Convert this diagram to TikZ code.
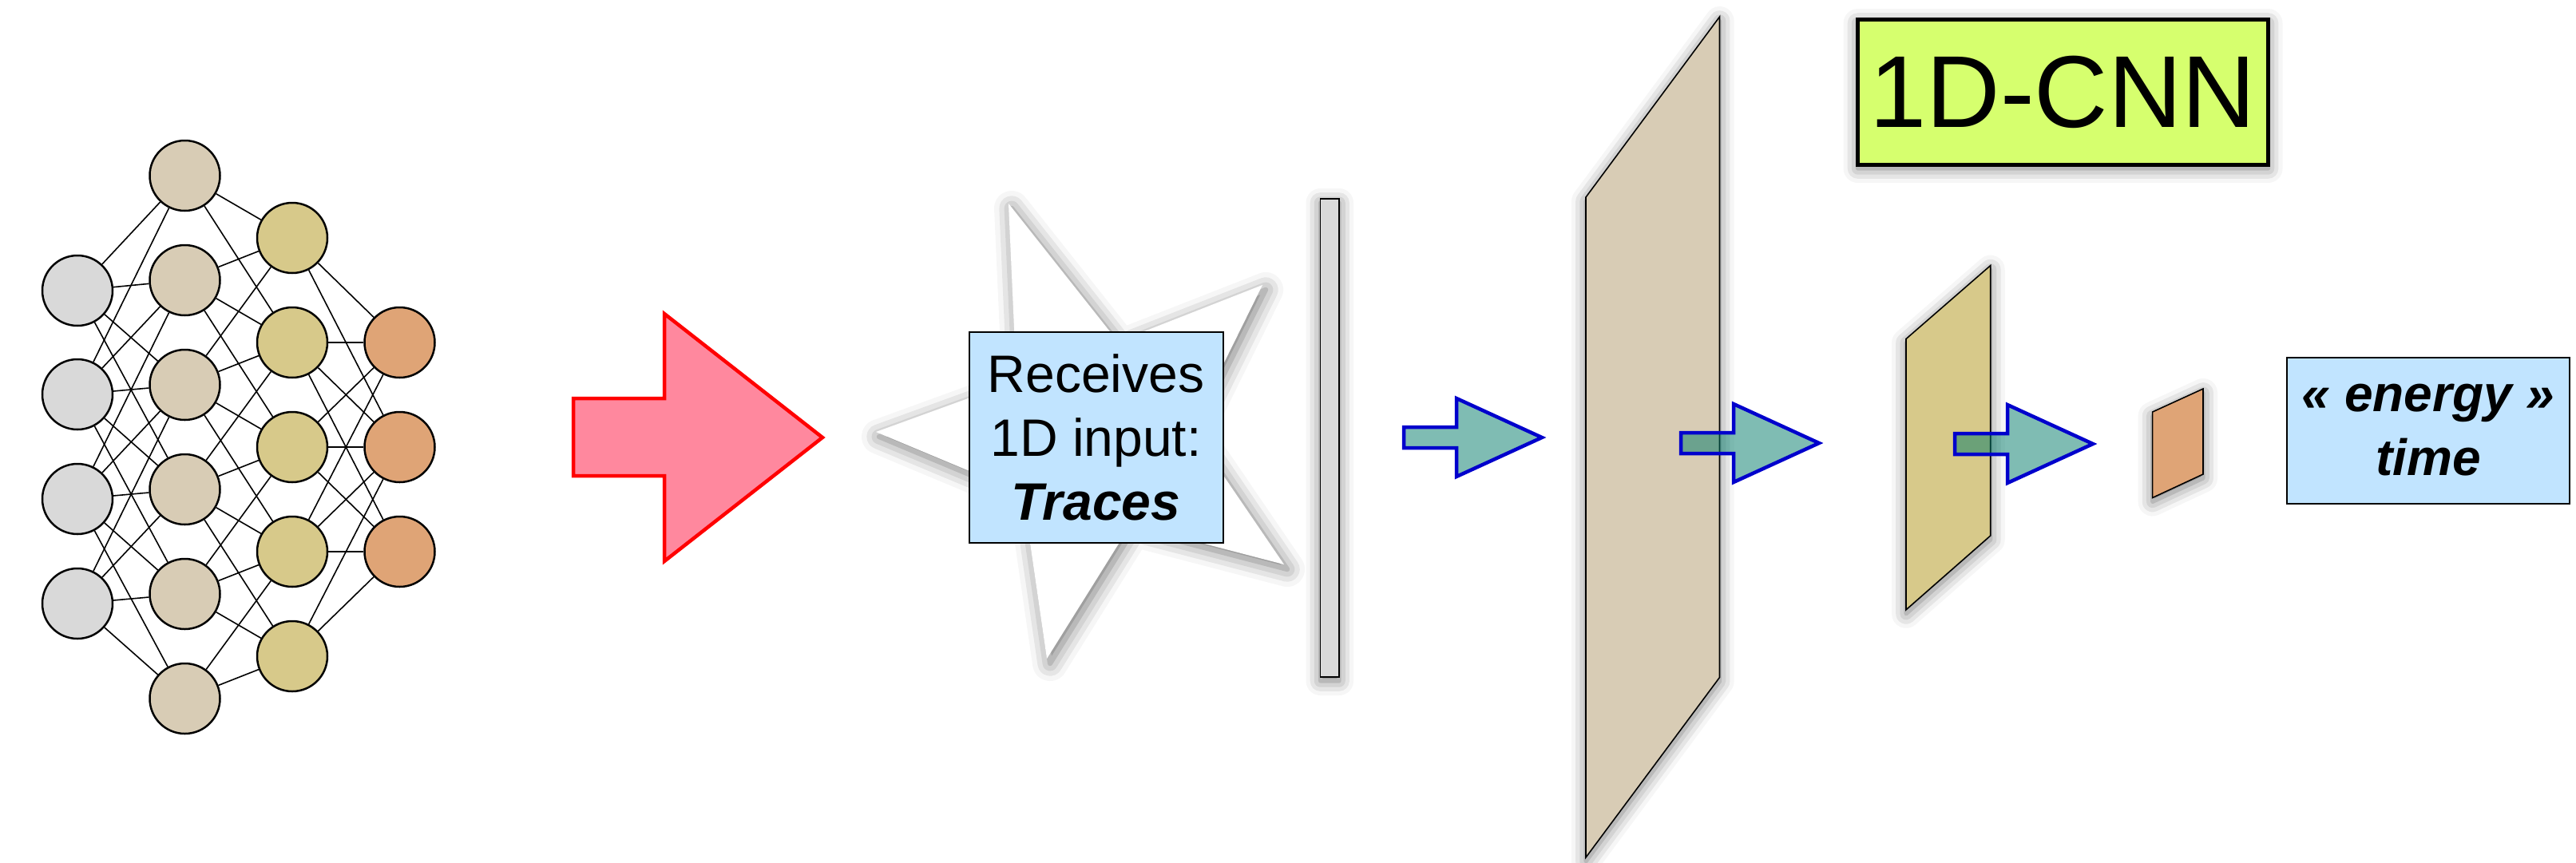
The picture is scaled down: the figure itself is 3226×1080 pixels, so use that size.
\documentclass[tikz,border=0pt]{standalone}
\usepackage{fontspec}
\setmainfont{Liberation Sans}
\usetikzlibrary{shadows.blur}
\definecolor{nnA}{RGB}{217,217,217}
\definecolor{nnB}{RGB}{216,204,181}
\definecolor{nnC}{RGB}{215,201,138}
\definecolor{nnD}{RGB}{223,164,118}
\definecolor{redfill}{RGB}{255,136,158}
\definecolor{flowblue}{RGB}{0,0,204}
\definecolor{flowfill}{RGB}{0,122,104}
\definecolor{boxblue}{RGB}{193,228,255}
\definecolor{lime}{RGB}{214,255,110}
\definecolor{barfill}{RGB}{217,217,217}
\tikzset{
  nn/.style={circle, draw, line width=2.5pt, minimum size=88pt, inner sep=0pt},
  link/.style={line width=1.6pt},
  shad/.style={blur shadow={shadow xshift=0pt, shadow yshift=-5pt, shadow blur radius=18pt, shadow opacity=55}},
  panel/.style={draw, line width=1.6pt, line join=miter, shad},
  bigarrow/.style={draw=red, line width=4.5pt, fill=redfill, line join=miter},
  flowarrow/.style={draw=flowblue, line width=4.5pt, fill=flowfill, fill opacity=0.5, line join=miter},
  flow/.pic={\draw[flowarrow] (0,-13) -- (66,-13) -- (66,-49) -- (173,0) -- (66,49) -- (66,13) -- (0,13) -- cycle;},
  infobox/.style={draw, line width=2pt, fill=boxblue, inner sep=0pt, align=center},
}
\begin{document}
\begin{tikzpicture}[x=1pt,y=-1pt]
\useasboundingbox (0,0) rectangle (3226,1080);
% ---------------- neural network ----------------
\foreach \i/\y in {0/364,1/494,2/625,3/756} \node[nn, fill=nnA] (a\i) at (97,\y) {};
\foreach \i/\y in {0/220,1/351,2/482,3/613,4/744,5/875} \node[nn, fill=nnB] (b\i) at (231.5,\y) {};
\foreach \i/\y in {0/298,1/429,2/560,3/691,4/822} \node[nn, fill=nnC] (c\i) at (366,\y) {};
\foreach \i/\y in {0/429,1/560,2/691} \node[nn, fill=nnD] (d\i) at (500.5,\y) {};
\foreach \s/\t in {a0/b0,a0/b1,a0/b2,a0/b3,
                   a1/b0,a1/b1,a1/b2,a1/b3,a1/b4,
                   a2/b1,a2/b2,a2/b3,a2/b4,a2/b5,
                   a3/b2,a3/b3,a3/b4,a3/b5,
                   b0/c0,b0/c1,
                   b1/c0,b1/c1,b1/c2,
                   b2/c0,b2/c1,b2/c2,b2/c3,
                   b3/c1,b3/c2,b3/c3,b3/c4,
                   b4/c2,b4/c3,b4/c4,
                   b5/c3,b5/c4,
                   c0/d0,c0/d1,
                   c1/d0,c1/d1,c1/d2,
                   c2/d0,c2/d1,c2/d2,
                   c3/d0,c3/d1,c3/d2,
                   c4/d1,c4/d2}
  \draw[link] (\s) -- (\t);
% ---------------- red arrow ----------------
\draw[bigarrow] (718,499) -- (832,499) -- (832,393) -- (1030,548) -- (832,703) -- (832,596) -- (718,596) -- cycle;
% ---------------- star + input box ----------------
\fill[white, blur shadow={shadow xshift=4pt, shadow yshift=-6pt, shadow blur radius=22pt, shadow opacity=55}]
  (1263,255) -- (1400,428) -- (1581,357) -- (1492,537) -- (1608,707) -- (1416,657)
  -- (1311,825) -- (1281,618) -- (1097,541) -- (1273,477) -- cycle;
\node[infobox, minimum width=318pt, minimum height=264pt, font={\fontsize{66}{80}\selectfont}]
  (input) at (1372.5,548) {Receives\\1D input:\\\textbf{\textit{Traces}}};
% ---------------- layers ----------------
\draw[panel, fill=barfill] (1653.5,249) rectangle (1677,848);
\draw[panel, fill=nnB] (1986,247) -- (2153.5,21) -- (2153.5,848.5) -- (1986,1074) -- cycle;
\pic at (1758,548) {flow};
\pic at (2105,555) {flow};
\draw[panel, fill=nnC] (2387,424.5) -- (2492.7,332.6) -- (2492.7,671) -- (2387,763.8) -- cycle;
\pic at (2448,556) {flow};
\draw[panel, fill=nnD] (2695.6,516) -- (2759,487) -- (2759,594) -- (2695.6,623.5) -- cycle;
% ---------------- output + title ----------------
\node[infobox, minimum width=354pt, minimum height=183pt, font={\fontsize{64}{80}\selectfont\bfseries\itshape}]
  (output) at (3041,539) {« energy »\\time};
\node[draw, line width=5pt, fill=lime, inner sep=0pt, minimum width=514pt, minimum height=182pt,
      font={\fontsize{128}{140}\selectfont}, shad] (title) at (2583.5,115) {1D-CNN};
\end{tikzpicture}
\end{document}
